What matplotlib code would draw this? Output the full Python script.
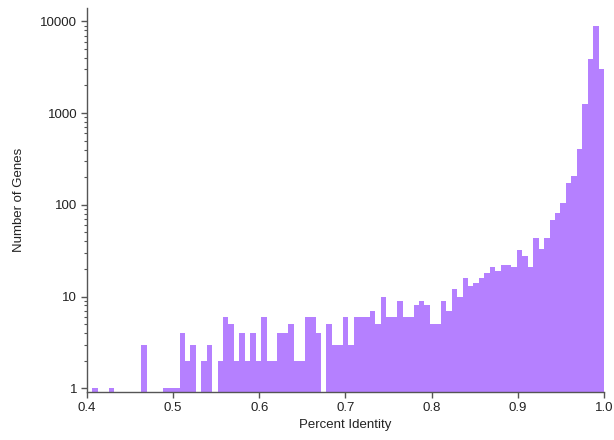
import numpy as np
import matplotlib
matplotlib.use("Agg")
import matplotlib.pyplot as plt
from matplotlib.ticker import FixedLocator, FixedFormatter, LogLocator, NullFormatter

plt.rcParams['font.family'] = ['Liberation Sans', 'DejaVu Sans']

# Histogram of percent identity: 95 equal bins from 0.4 to 1.0
bin_start = 0.4
bin_stop = 1.0
n_bins = 95
counts = [
    0, 1, 0, 0, 1, 0, 0, 0, 0, 0,      # 0-9
    3, 0, 0, 0, 1, 1, 1, 4, 2, 3,      # 10-19
    0, 2, 3, 0, 2, 6, 5, 2, 4, 2,      # 20-29
    4, 2, 6, 2, 2, 4, 4, 5, 2, 2,      # 30-39
    6, 6, 4, 0, 5, 3, 3, 6, 3, 6,      # 40-49
    6, 6, 7, 5, 10, 6, 6, 9, 6, 6,     # 50-59
    8, 9, 8, 5, 5, 9, 7, 12, 10, 16,   # 60-69
    13, 14, 16, 18, 21, 19, 22, 22, 21, 32,  # 70-79
    28, 21, 43, 33, 44, 68, 82, 106, 172, 208,  # 80-89
    404, 1250, 3930, 8930, 3010,       # 90-94
]
x_ticks = [0.4, 0.5, 0.6, 0.7, 0.8, 0.9, 1.0]
x_tick_labels = ["0.4", "0.5", "0.6", "0.7", "0.8", "0.9", "1.0"]
y_ticks = [1, 10, 100, 1000, 10000]
y_tick_labels = ["1", "10", "100", "1000", "10000"]
x_label = "Percent Identity"
y_label = "Number of Genes"

edges = np.linspace(bin_start, bin_stop, n_bins + 1)
counts = np.array(counts, dtype=float)

fig = plt.figure(figsize=(6.14, 4.40), dpi=100)
ax = fig.add_axes([0.1417, 0.109, 0.842, 0.873])
ax.set_yscale('log')

base = 0.5
mask = counts > 0
ax.bar(edges[:-1][mask], counts[mask] - base, width=np.diff(edges)[mask], align='edge',
       bottom=base, color='#b580ff', edgecolor='none', linewidth=0)

ax.set_xlim(0.4, 1.0)
ax.set_ylim(0.911, 14000)

for s in ['top', 'right']:
    ax.spines[s].set_visible(False)
for s in ['left', 'bottom']:
    ax.spines[s].set_color('#555555')
    ax.spines[s].set_linewidth(1.0)

ax.xaxis.set_major_locator(FixedLocator(x_ticks))
ax.xaxis.set_major_formatter(FixedFormatter(x_tick_labels))
ax.yaxis.set_major_locator(FixedLocator(y_ticks))
ax.yaxis.set_major_formatter(FixedFormatter(y_tick_labels))
ax.yaxis.set_minor_locator(LogLocator(base=10, subs=np.arange(2, 10)))
ax.yaxis.set_minor_formatter(NullFormatter())

ax.tick_params(axis='both', which='major', direction='out', length=4, width=1,
               color='#555555', labelsize=9.5, labelcolor='#222222', pad=3)
ax.tick_params(axis='y', which='minor', direction='out', length=2, width=0.8,
               color='#555555')

ax.set_xlabel(x_label, fontsize=9.5, color='#222222', labelpad=4)
ax.set_ylabel(y_label, fontsize=9.5, color='#222222', labelpad=11)

fig.savefig('out.png', dpi=100, facecolor='white')
